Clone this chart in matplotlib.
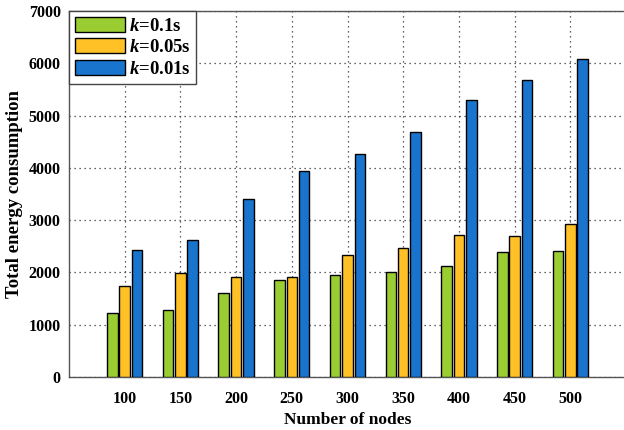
import numpy as np
import matplotlib
matplotlib.use('Agg')
import matplotlib.pyplot as plt

plt.rcParams['font.family'] = ['Liberation Serif', 'DejaVu Serif']
plt.rcParams['font.weight'] = 'bold'
plt.rcParams['mathtext.fontset'] = 'custom'
plt.rcParams['mathtext.it'] = 'Liberation Serif:italic:bold'
plt.rcParams['mathtext.rm'] = 'Liberation Serif:bold'

nodes = ['100', '150', '200', '250', '300', '350', '400', '450', '500']
k_01 = [1215, 1275, 1605, 1860, 1955, 2015, 2115, 2395, 2415]
k_005 = [1745, 1990, 1905, 1910, 2325, 2460, 2710, 2690, 2930]
k_001 = [2420, 2625, 3405, 3935, 4270, 4680, 5290, 5675, 6080]
labels = ['$k$=0.1s', '$k$=0.05s', '$k$=0.01s']
colors = ['#9ACD32', '#FFC125', '#1874CD']

fig = plt.figure(figsize=(6.24, 4.30), dpi=100)
ax = fig.add_axes([69/624, 53/430, 557/624, 366/430])

x = np.arange(1, len(nodes) + 1)
w = 0.19
off = 0.222
for i, vals in enumerate([k_01, k_005, k_001]):
    ax.bar(x + (i - 1) * off, vals, w, color=colors[i], edgecolor='black',
           linewidth=1.0, label=labels[i], zorder=3)

ax.set_xlim(0, 10)
ax.set_ylim(0, 7000)
ax.set_xticks(x)
ax.set_xticklabels(nodes)
ax.set_yticks(np.arange(0, 7001, 1000))
ax.tick_params(length=0, labelsize=11.5, pad=10)
ax.tick_params(axis='y', pad=6)
for lab in ax.get_xticklabels() + ax.get_yticklabels():
    lab.set_fontweight('bold')
ax.grid(True, linestyle=(0, (1, 3)), color='#333333', linewidth=0.9, zorder=0)
for s in ax.spines.values():
    s.set_color('#555555')
    s.set_linewidth(1.0)

ax.set_xlabel('Number of nodes', fontsize=12.5, fontweight='bold', labelpad=4)
ax.set_ylabel('Total energy consumption', fontsize=13.5, fontweight='bold', labelpad=4)

leg = ax.legend(loc='upper left', bbox_to_anchor=(0, 1), borderaxespad=0,
                fontsize=13.5, handlelength=2.7, handleheight=0.85,
                fancybox=False, edgecolor='#444444', framealpha=1,
                borderpad=0.3, labelspacing=0.2, handletextpad=0.2)
leg.get_frame().set_linewidth(1.0)
leg.set_zorder(5)

fig.savefig('out.png', dpi=100)
